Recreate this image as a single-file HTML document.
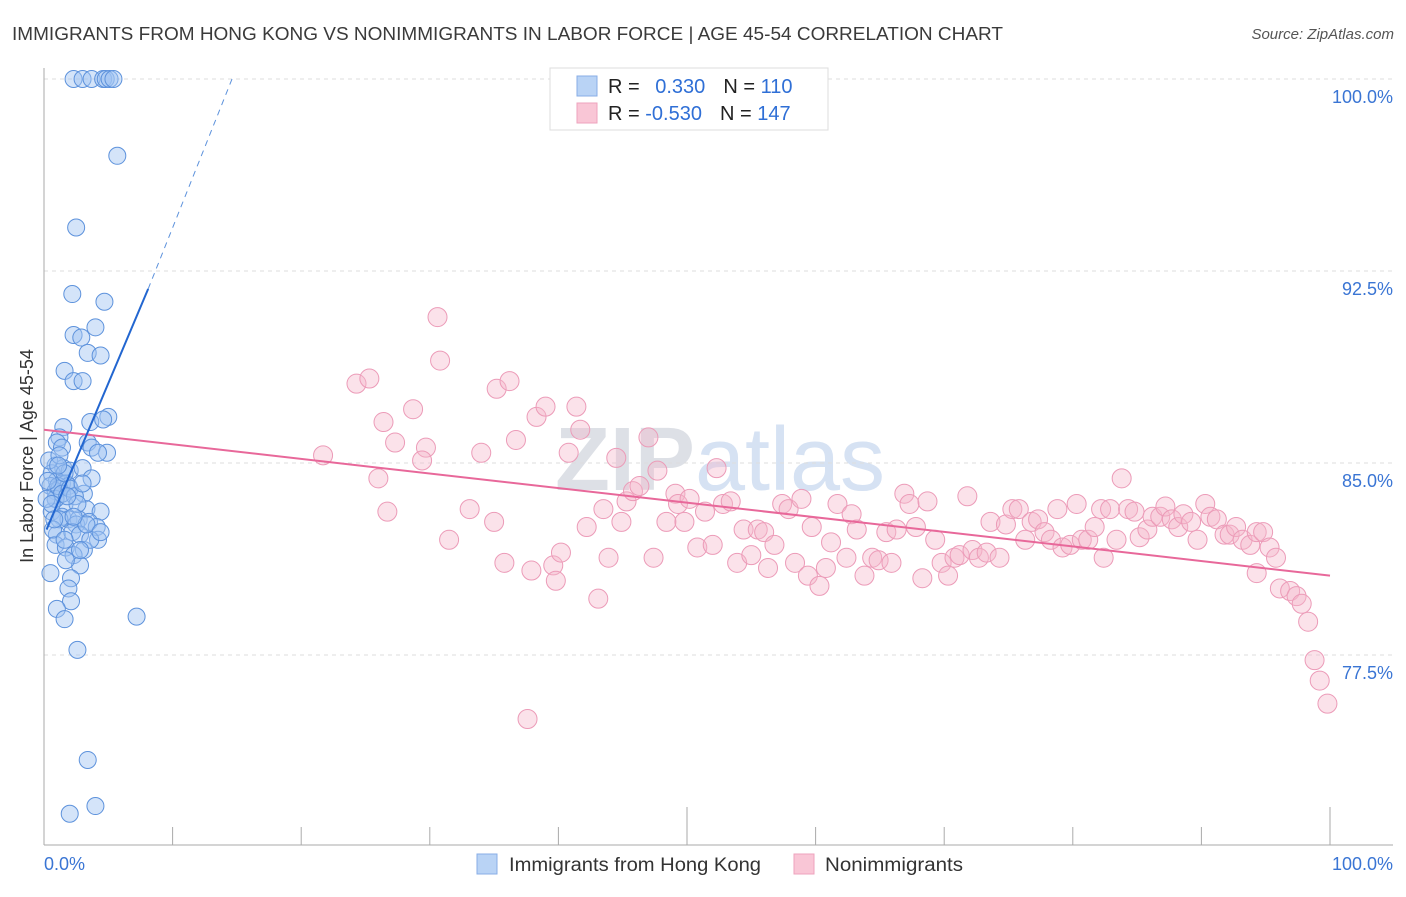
<!DOCTYPE html>
<html><head><meta charset="utf-8"><style>
body{margin:0;background:#fff;font-family:"Liberation Sans",sans-serif}
svg text{font-family:"Liberation Sans",sans-serif}
</style></head><body>
<svg id="chart" width="1406" height="892" xmlns="http://www.w3.org/2000/svg">
<text x="12" y="40" font-size="18" fill="#3a3a3a" textLength="991" lengthAdjust="spacingAndGlyphs">IMMIGRANTS FROM HONG KONG VS NONIMMIGRANTS IN LABOR FORCE | AGE 45-54 CORRELATION CHART</text>
<text x="1394" y="39" font-size="15" fill="#555" font-style="italic" text-anchor="end">Source: ZipAtlas.com</text>
<text x="720" y="490" font-size="90" fill="#e4e8ee" text-anchor="middle" font-family="Liberation Serif"><tspan font-weight="bold" fill="#dde0e6">ZIP</tspan><tspan font-family="Liberation Sans" fill="#d6e2f3">atlas</tspan></text>
<text transform="translate(33,456) rotate(-90)" font-size="18" fill="#333" text-anchor="middle">In Labor Force | Age 45-54</text>
<g id="grid"></g><g id="axes"></g><g id="pink"></g><g id="blue"></g><g id="lines"></g>
<g>
<rect x="550" y="68" width="278" height="62" fill="#fff" stroke="#ddd"/>
<rect x="577" y="76" width="20" height="20" fill="#b9d3f5" stroke="#88aee6"/>
<rect x="577" y="103" width="20" height="20" fill="#f9c6d6" stroke="#eea3bd"/>
<text x="608" y="93" font-size="20" fill="#222">R = <tspan fill="#2f6fd6" dx="10">0.330</tspan><tspan fill="#222" dx="18">N = </tspan><tspan fill="#2f6fd6">110</tspan></text>
<text x="608" y="120" font-size="20" fill="#222">R = <tspan fill="#2f6fd6">-0.530</tspan><tspan fill="#222" dx="18">N = </tspan><tspan fill="#2f6fd6">147</tspan></text>
</g>
<g>
<rect x="477" y="854" width="20" height="20" fill="#b9d3f5" stroke="#88aee6"/>
<text x="509" y="871" font-size="19" fill="#333" textLength="252" lengthAdjust="spacingAndGlyphs">Immigrants from Hong Kong</text>
<rect x="794" y="854" width="20" height="20" fill="#f9c6d6" stroke="#eea3bd"/>
<text x="825" y="871" font-size="19" fill="#333" textLength="138" lengthAdjust="spacingAndGlyphs">Nonimmigrants</text>
</g>
</svg>
<script>
const yTicks=[100,92.5,85,77.5];
const yTickLabels=["100.0%","92.5%","85.0%","77.5%"];
const xTicks=[0,10,20,30,40,50,60,70,80,90,100];
const blueX=[2.3,3.0,3.7,4.6,4.8,5.1,5.4,5.7,2.5,2.2,4.7,4.0,2.3,2.9,3.4,4.4,1.6,2.3,3.0,5.0,3.6,4.6,1.5,1.2,1.0,1.4,3.4,3.7,4.9,4.2,0.9,1.5,2.0,3.0,0.6,1.0,1.4,1.7,3.7,0.5,0.9,1.2,1.9,3.1,0.9,1.6,3.3,4.4,0.6,1.4,1.9,2.7,2.5,3.5,4.1,1.0,2.2,2.8,0.9,1.7,3.1,4.2,3.6,2.3,2.8,0.5,2.1,1.9,2.1,1.0,1.6,2.6,7.2,3.4,4.0,2.0,0.9,1.1,1.4,1.6,2.0,2.4,1.2,0.7,0.3,0.2,0.4,0.6,2.6,1.7,1.2,1.1,1.6,3.3,4.4,2.3,1.8,3.0,0.8,2.8];
const blueY=[100,100,100,100,100,100,100,97.0,94.2,91.6,91.3,90.3,90.0,89.9,89.3,89.2,88.6,88.2,88.2,86.8,86.6,86.7,86.4,86.0,85.8,85.6,85.8,85.6,85.4,85.4,84.9,84.8,84.7,84.8,84.6,84.3,84.2,84.2,84.4,84.1,83.9,84.0,84.1,83.8,83.6,83.4,83.2,83.1,83.1,82.9,82.8,82.8,82.6,82.7,82.5,82.2,82.3,82.2,81.8,81.7,81.6,82.0,82.0,81.4,81.0,80.7,80.5,80.1,79.6,79.3,78.9,77.7,79.0,73.4,71.6,71.3,83.6,84.1,83.8,84.6,84.0,83.7,82.8,82.4,84.3,83.6,85.1,83.4,83.4,81.2,85.3,84.9,82.0,82.6,82.3,82.9,83.7,84.2,82.8,81.6];
const pinkX=[30.6,30.8,24.3,25.3,35.2,36.2,26.4,28.7,27.3,29.7,29.4,21.7,26.0,26.7,31.5,33.1,34.0,35.0,36.7,38.3,39.0,41.4,41.7,40.8,35.8,37.9,39.6,39.8,40.2,43.1,43.9,44.5,42.2,43.5,44.9,45.3,45.8,46.3,47.0,47.7,47.4,48.4,49.1,49.3,49.8,50.2,50.8,51.4,52.0,52.3,52.8,53.4,53.9,54.4,55.0,55.5,56.0,56.3,56.8,57.4,57.9,58.4,58.9,59.4,59.7,60.3,60.8,61.2,61.7,62.4,62.8,63.2,63.8,64.4,64.9,65.5,65.9,66.3,66.9,67.3,67.8,68.3,68.7,69.3,69.8,70.3,70.8,71.2,71.8,72.2,72.7,73.3,73.6,74.3,74.8,75.3,75.8,76.3,76.8,77.3,77.8,78.3,78.8,79.2,79.8,80.3,80.7,81.2,81.7,82.2,82.4,82.9,83.4,83.8,84.3,84.8,85.2,85.8,86.2,86.8,87.2,87.7,88.2,88.6,89.2,89.7,90.3,90.7,91.2,91.8,92.2,92.7,93.2,93.8,94.3,94.8,95.3,95.8,94.3,96.1,96.9,97.4,97.8,98.3,98.8,99.2,99.8,37.6];
const pinkY=[90.7,89.0,88.1,88.3,87.9,88.2,86.6,87.1,85.8,85.6,85.1,85.3,84.4,83.1,82.0,83.2,85.4,82.7,85.9,86.8,87.2,87.2,86.3,85.4,81.1,80.8,81.0,80.4,81.5,79.7,81.3,85.2,82.5,83.2,82.7,83.5,83.9,84.1,86.0,84.7,81.3,82.7,83.8,83.4,82.7,83.6,81.7,83.1,81.8,84.8,83.4,83.5,81.1,82.4,81.4,82.4,82.3,80.9,81.8,83.4,83.2,81.1,83.6,80.6,82.5,80.2,80.9,81.9,83.4,81.3,83.0,82.4,80.6,81.3,81.2,82.3,81.1,82.4,83.8,83.4,82.5,80.5,83.5,82.0,81.1,80.6,81.3,81.4,83.7,81.6,81.3,81.5,82.7,81.3,82.6,83.2,83.2,82.0,82.7,82.8,82.3,82.0,83.2,81.7,81.8,83.4,82.0,82.0,82.5,83.2,81.3,83.2,82.0,84.4,83.2,83.1,82.1,82.4,82.9,82.9,83.3,82.8,82.5,83.0,82.7,82.0,83.4,82.9,82.8,82.2,82.2,82.5,82.0,81.8,82.3,82.3,81.7,81.3,80.7,80.1,80.0,79.8,79.5,78.8,77.3,76.5,75.6,75.0];
const blueTrendX=[0.2,8.1],blueTrendY=[82.4,91.8];
const blueDashX=[8.1,14.7],blueDashY=[91.8,100.1];
const pinkTrendX=[0,100],pinkTrendY=[86.3,80.6];

const X0=44,X1=1330,Y100=79,PX_PER=25.6;
const sx=v=>X0+(X1-X0)*v/100;
const sy=v=>Y100+(100-v)*PX_PER;
const NS="http://www.w3.org/2000/svg";
function mk(tag,parent,attrs){const e=document.createElementNS(NS,tag);for(const k in attrs)e.setAttribute(k,attrs[k]);document.getElementById(parent).appendChild(e);return e;}

yTicks.forEach((t,i)=>{
  const g=mk('line','grid',{x1:X0,x2:1393,y1:sy(t),y2:sy(t),stroke:'#ddd','stroke-dasharray':'4,4'});
  
  
  const l=mk('text','grid',{x:1393,y:sy(t)+24,'font-size':18,fill:'#3a75d4','text-anchor':'end'});
  l.textContent=yTickLabels[i];
  
  
});
let ax=mk('line','axes',{x1:X0,x2:X0,y1:68,y2:845,stroke:'#aaa'});


ax=mk('line','axes',{x1:X0,x2:1393,y1:845,y2:845,stroke:'#aaa'});


xTicks.forEach(t=>{
  const tk=mk('line','axes',{x1:sx(t),x2:sx(t),y1:(t%50===0?807:827),y2:845,stroke:'#aaa'});
  
  
});
let xl=mk('text','axes',{x:44,y:870,'font-size':18,fill:'#3a75d4'});xl.textContent='0.0%';


xl=mk('text','axes',{x:1393,y:870,'font-size':18,fill:'#3a75d4','text-anchor':'end'});xl.textContent='100.0%';



pinkX.forEach((x,i)=>{
  const c=mk('circle','pink',{cx:sx(x),cy:sy(pinkY[i]),r:9.5,fill:'rgba(246,182,203,0.4)',stroke:'#ec9bb8','stroke-width':1});
  
  
});
blueX.forEach((x,i)=>{
  const c=mk('circle','blue',{cx:sx(x),cy:sy(blueY[i]),r:8.5,fill:'rgba(160,196,242,0.45)',stroke:'#5d92dc','stroke-width':1});
  
  
});
let ln=mk('line','lines',{x1:sx(pinkTrendX[0]),y1:sy(pinkTrendY[0]),x2:sx(pinkTrendX[1]),y2:sy(pinkTrendY[1]),stroke:'#e8689a','stroke-width':2});


ln=mk('line','lines',{x1:sx(blueTrendX[0]),y1:sy(blueTrendY[0]),x2:sx(blueTrendX[1]),y2:sy(blueTrendY[1]),stroke:'#2266d0','stroke-width':2});


ln=mk('line','lines',{x1:sx(blueDashX[0]),y1:sy(blueDashY[0]),x2:sx(blueDashX[1]),y2:sy(blueDashY[1]),stroke:'#5d92dc','stroke-width':1,'stroke-dasharray':'6,5'});


</script>
</body></html>
